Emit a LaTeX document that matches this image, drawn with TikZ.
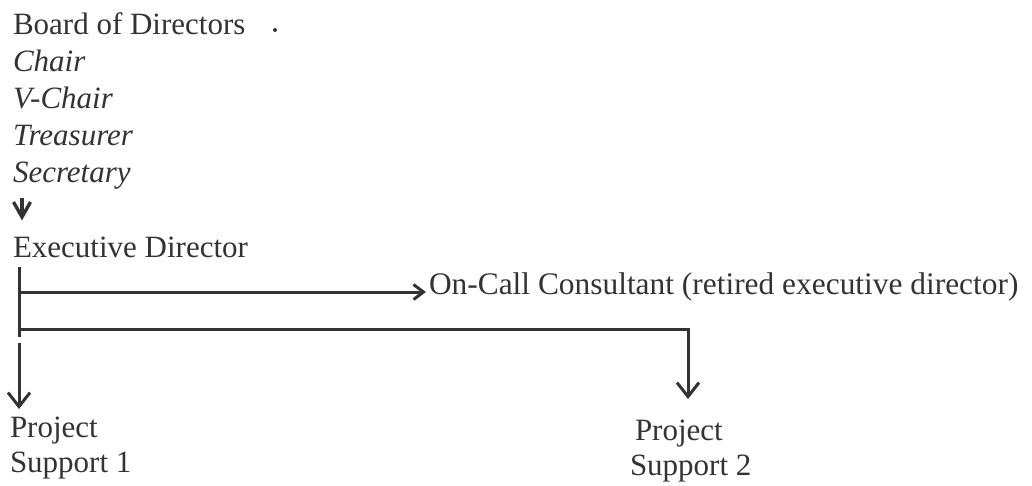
\documentclass[tikz,border=0pt]{standalone}
\usepackage{fontspec}
\setmainfont{Liberation Serif}
\usetikzlibrary{arrows.meta}
\definecolor{ink}{HTML}{333333}
\begin{document}
\begin{tikzpicture}[x=1pt,y=-1pt,
  txt/.style={inner sep=0pt, outer sep=0pt, anchor=base west, align=left, text=ink,
              font=\fontsize{31}{37}\selectfont},
  ptxt/.style={txt, font=\fontsize{31}{34.5}\selectfont},
  conn/.style={draw=ink, line width=3pt},
  hhead/.style={-{Straight Barb[length=10pt,width=15pt]}},
  vhead/.style={-{Straight Barb[length=14pt,width=22pt]}}]
\useasboundingbox (0,0) rectangle (1032,485);

% texts (base anchor = baseline of the last line)
\node[txt] (board) at (13,182) {Board of Directors\\\textit{Chair}\\\textit{V-Chair}\\\textit{Treasurer}\\\textit{Secretary}};
\fill[ink] (275,30) circle (2);
\node[txt] (exec) at (13,257) {Executive Director};
\node[txt, font=\fontsize{31.4}{37}\selectfont] (cons) at (429,294) {On-Call Consultant (retired executive director)};
\node[ptxt] (ps1) at (10,472) {Project\\Support 1};
\node[ptxt] (ps2) at (630,475) {\hspace*{5pt}Project\\Support 2};

% coordinates
\coordinate (g1) at (22,198);
\coordinate (g2) at (22,217);
\coordinate (t1) at (19,267);
\coordinate (t2) at (19,337);
\coordinate (b1) at (19,292);
\coordinate (cin) at (426,292);
\coordinate (b2) at (19,329);
\coordinate (p2in) at (688,399);
\coordinate (p1top) at (19,343);
\coordinate (p1in) at (19,409);

% board -> exec glyph arrow
\draw[ink, line width=3.4pt] (g1) -- (g2);
\draw[ink, line width=3.4pt, line join=miter] (13.5,202) -- (g2) -- (30.5,202);

% connectors
\draw[conn] (t1) -- (t2);
\draw[conn, hhead] (b1) -- (cin);
\draw[conn, vhead] (b2) -| (p2in);
\draw[conn, vhead] (p1top) -- (p1in);
\end{tikzpicture}
\end{document}
